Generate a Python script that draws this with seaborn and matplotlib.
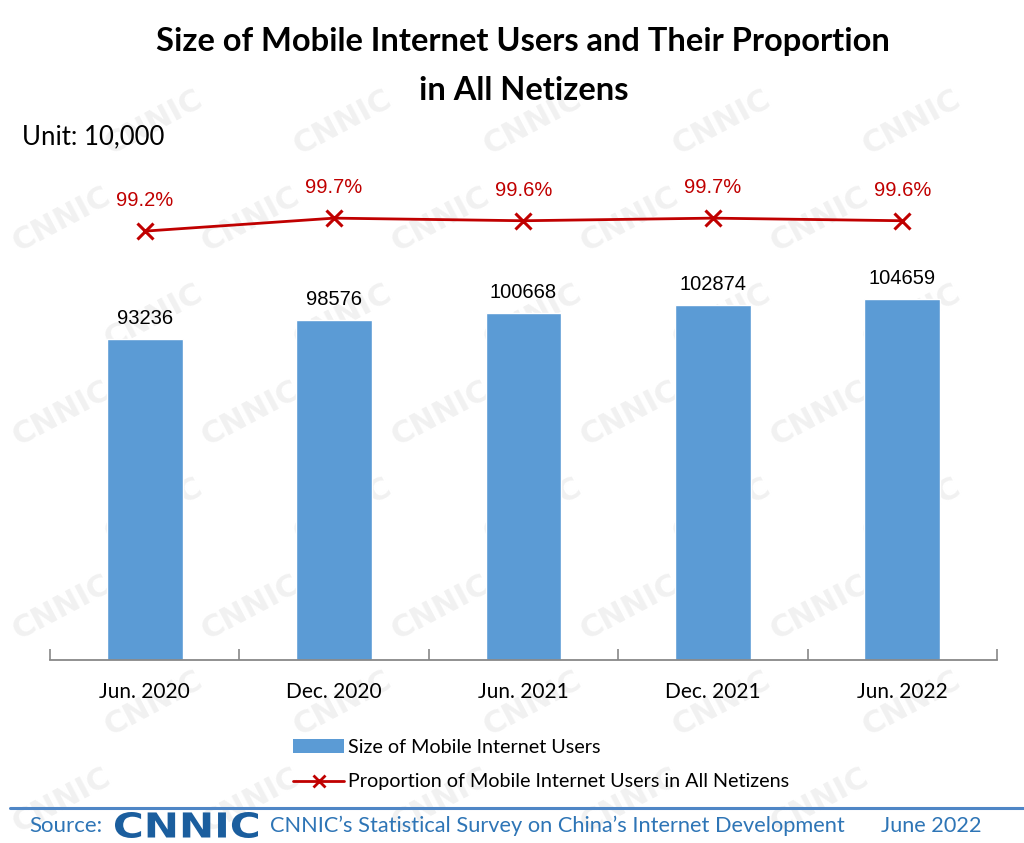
import numpy as np
import matplotlib
matplotlib.use("Agg")
import matplotlib.pyplot as plt
import seaborn as sns
from matplotlib.patches import Patch, PathPatch
from matplotlib.lines import Line2D
from matplotlib.textpath import TextPath
from matplotlib.font_manager import FontProperties
from matplotlib.transforms import Affine2D

# data
periods = ["Jun. 2020", "Dec. 2020", "Jun. 2021", "Dec. 2021", "Jun. 2022"]
users = [93236, 98576, 100668, 102874, 104659]          # unit: 10,000
proportion = [99.2, 99.7, 99.6, 99.7, 99.6]              # %

bar_color = "#5b9bd5"
line_color = "#c00000"
blue_text = "#2e75b6"

sns.set_theme(style="white")
plt.rcParams["font.family"] = ["Lato", "DejaVu Sans"]
plt.rcParams["text.color"] = "black"
plt.rcParams["xtick.color"] = "black"

fig = plt.figure(figsize=(10.24, 8.43), dpi=100)

# faint CNNIC watermark behind everything (kept inside the canvas)
for j, yy in enumerate(np.arange(0.05, 0.97, 0.115)):
    off = 0.09 if j % 2 else 0.0
    for xx in np.arange(0.06 + off, 0.95, 0.185):
        fig.text(xx, yy, "CNNIC", fontsize=22, fontweight="bold", color="#f1f1f1",
                 rotation=28, ha="center", va="center", zorder=-5,
                 family="DejaVu Sans")

ax = fig.add_axes([0.0488, 0.217, 0.9248, 0.593])
ax.patch.set_alpha(0)
sns.barplot(x=periods, y=users, color=bar_color, width=0.4, saturation=1, ax=ax)
ax.bar_label(ax.containers[0], padding=8, fontsize=14.5, family="Liberation Sans",
             color="black")
ax.set_ylim(0, 145000)
ax.set_xlim(-0.5, 4.5)
ax.set_xlabel("")
ax.set_ylabel("")
ax.set_yticks([])
for s in ["left", "top", "right"]:
    ax.spines[s].set_visible(False)
ax.spines["bottom"].set_color("#888888")
ax.spines["bottom"].set_linewidth(1.3)
ax.set_xticks(np.arange(-0.5, 5, 1), minor=True)
ax.tick_params(axis="x", which="major", length=0, pad=16, labelsize=15,
               labelcolor="black")
ax.tick_params(axis="x", which="minor", direction="in", length=8, width=1.2,
               color="#888888", bottom=True)

ax2 = ax.twinx()
ax2.patch.set_alpha(0)
sns.lineplot(x=periods, y=proportion, color=line_color, marker="x", markersize=11,
             markeredgewidth=2.2, markeredgecolor=line_color, linewidth=2, ax=ax2)
ax2.set_ylim(82.7, 101.93)
ax2.set_yticks([])
ax2.set_ylabel("")
for s in ax2.spines.values():
    s.set_visible(False)
for i, v in enumerate(proportion):
    ax2.annotate(f"{v}%", (i, v), xytext=(0, 15), textcoords="offset points",
                 ha="center", va="bottom", color=line_color, fontsize=14.5,
                 family="Liberation Sans")

# titles
fig.text(0.511, 0.951, "Size of Mobile Internet Users and Their Proportion",
         ha="center", va="center", fontsize=23.5, fontweight="bold")
fig.text(0.511, 0.893, "in All Netizens", ha="center", va="center",
         fontsize=23.5, fontweight="bold")
fig.text(0.021, 0.838, "Unit: 10,000", ha="left", va="center", fontsize=18.5)

# legend
handles = [Patch(facecolor=bar_color, edgecolor="none"),
           Line2D([0], [0], color=line_color, lw=2, marker="x", markersize=9,
                  markeredgewidth=2)]
labels = ["Size of Mobile Internet Users",
          "Proportion of Mobile Internet Users in All Netizens"]
fig.legend(handles, labels, loc="center left", bbox_to_anchor=(0.286, 0.093),
           frameon=False, fontsize=14.2, handlelength=2.6, handletextpad=0.2,
           labelspacing=0.9, borderpad=0, borderaxespad=0)

# footer
fig.add_artist(Line2D([0.01, 1.0], [0.042, 0.042], color="#4f86c6", lw=2.2))
fig.text(0.029, 0.02, "Source:", ha="left", va="center", fontsize=16, color=blue_text)
fig.text(0.264, 0.02, "CNNIC\u2019s Statistical Survey on China\u2019s Internet Development",
         ha="left", va="center", fontsize=15.7, color=blue_text)
fig.text(0.86, 0.02, "June 2022", ha="left", va="center", fontsize=15.6, color=blue_text)

# wide CNNIC logo: bold text path stretched into the logo box
logo = TextPath((0, 0), "CNNIC", size=1,
                prop=FontProperties(family="DejaVu Sans", weight="heavy"))
ext = logo.get_extents()
x0, x1 = 115 / 1024, 258 / 1024
y0, y1 = (843 - 838) / 843, (843 - 812) / 843
tr = (Affine2D().translate(-ext.x0, -ext.y0)
      .scale((x1 - x0) / ext.width, (y1 - y0) / ext.height)
      .translate(x0, y0) + fig.transFigure)
fig.add_artist(PathPatch(logo, transform=tr, facecolor="#1b5e9e", edgecolor="none"))

fig.savefig("out.png", dpi=100)
